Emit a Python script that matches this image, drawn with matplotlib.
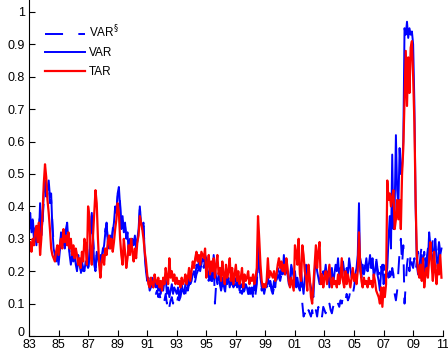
import numpy as np
import matplotlib
matplotlib.use("Agg")
import matplotlib.pyplot as plt
import matplotlib.transforms as mtransforms

# Monthly estimates, Jan 1983 - Dec 2010
tar = [
    0.27, 0.29, 0.26, 0.30, 0.28, 0.32, 0.34, 0.29, 0.35, 0.25, 0.30, 0.38,  # 1983
    0.47, 0.53, 0.49, 0.42, 0.38, 0.33, 0.27, 0.25, 0.24, 0.23, 0.26, 0.28,  # 1984
    0.25, 0.28, 0.30, 0.27, 0.33, 0.29, 0.31, 0.28, 0.32, 0.27, 0.30, 0.25,  # 1985
    0.28, 0.24, 0.27, 0.25, 0.22, 0.24, 0.21, 0.26, 0.23, 0.30, 0.28, 0.22,  # 1986
    0.40, 0.37, 0.26, 0.22, 0.31, 0.38, 0.45, 0.41, 0.30, 0.22, 0.18, 0.23,  # 1987
    0.25, 0.22, 0.27, 0.25, 0.29, 0.31, 0.27, 0.30, 0.26, 0.29, 0.33, 0.36,  # 1988
    0.41, 0.38, 0.30, 0.25, 0.22, 0.30, 0.26, 0.21, 0.24, 0.28, 0.25, 0.30,  # 1989
    0.26, 0.23, 0.27, 0.24, 0.29, 0.31, 0.37, 0.35, 0.33, 0.30, 0.26, 0.23,  # 1990
    0.19, 0.16, 0.15, 0.18, 0.16, 0.15, 0.19, 0.17, 0.16, 0.18, 0.15, 0.17,  # 1991
    0.14, 0.18, 0.16, 0.21, 0.18, 0.16, 0.24, 0.18, 0.20, 0.17, 0.19, 0.16,  # 1992
    0.18, 0.16, 0.17, 0.15, 0.18, 0.16, 0.17, 0.19, 0.16, 0.18, 0.21, 0.17,  # 1993
    0.20, 0.23, 0.21, 0.24, 0.26, 0.23, 0.25, 0.22, 0.26, 0.25, 0.24, 0.27,  # 1994
    0.18, 0.22, 0.25, 0.19, 0.23, 0.20, 0.24, 0.18, 0.22, 0.25, 0.19, 0.21,  # 1995
    0.17, 0.23, 0.19, 0.16, 0.22, 0.18, 0.20, 0.24, 0.17, 0.21, 0.16, 0.19,  # 1996
    0.22, 0.17, 0.20, 0.16, 0.18, 0.21, 0.15, 0.19, 0.17, 0.18, 0.20, 0.16,  # 1997
    0.18, 0.17, 0.19, 0.16, 0.18, 0.21, 0.37, 0.30, 0.22, 0.17, 0.15, 0.16,  # 1998
    0.15, 0.17, 0.24, 0.18, 0.20, 0.19, 0.18, 0.20, 0.17, 0.19, 0.22, 0.24,  # 1999
    0.21, 0.23, 0.20, 0.22, 0.19, 0.24, 0.21, 0.17, 0.15, 0.18, 0.16, 0.14,  # 2000
    0.28, 0.26, 0.22, 0.30, 0.19, 0.17, 0.28, 0.25, 0.20, 0.18, 0.14, 0.22,  # 2001
    0.18, 0.12, 0.10, 0.16, 0.22, 0.28, 0.21, 0.26, 0.29, 0.16, 0.19, 0.15,  # 2002
    0.18, 0.20, 0.16, 0.19, 0.22, 0.17, 0.15, 0.18, 0.16, 0.17, 0.15, 0.19,  # 2003
    0.16, 0.18, 0.24, 0.17, 0.15, 0.20, 0.16, 0.19, 0.17, 0.15, 0.18, 0.21,  # 2004
    0.17, 0.19, 0.16, 0.20, 0.32, 0.22, 0.17, 0.15, 0.18, 0.16, 0.17, 0.15,  # 2005
    0.18, 0.16, 0.17, 0.15, 0.19, 0.17, 0.14, 0.13, 0.12, 0.10, 0.15, 0.09,  # 2006
    0.15, 0.12, 0.16, 0.48, 0.42, 0.44, 0.40, 0.43, 0.45, 0.33, 0.36, 0.42,  # 2007
    0.36, 0.42, 0.33, 0.50, 0.58, 0.73, 0.88, 0.71, 0.86, 0.75, 0.89, 0.91,  # 2008
    0.80, 0.66, 0.42, 0.25, 0.20, 0.18, 0.22, 0.17, 0.24, 0.15, 0.19, 0.21,  # 2009
    0.18, 0.24, 0.29, 0.22, 0.17, 0.26, 0.20, 0.16, 0.22, 0.19, 0.25, 0.18,  # 2010
]

var = [
    0.36, 0.38, 0.32, 0.36, 0.30, 0.33, 0.28, 0.34, 0.30, 0.41, 0.31, 0.36,  # 1983
    0.44, 0.48, 0.43, 0.45, 0.48, 0.43, 0.44, 0.33, 0.27, 0.25, 0.23, 0.25,  # 1984
    0.22, 0.26, 0.32, 0.28, 0.30, 0.27, 0.33, 0.35, 0.29, 0.25, 0.22, 0.25,  # 1985
    0.23, 0.25, 0.22, 0.20, 0.24, 0.22, 0.20, 0.23, 0.21, 0.20, 0.23, 0.22,  # 1986
    0.21, 0.25, 0.32, 0.38, 0.30, 0.22, 0.20, 0.26, 0.24, 0.22, 0.25, 0.23,  # 1987
    0.26, 0.28, 0.32, 0.35, 0.29, 0.27, 0.31, 0.28, 0.32, 0.35, 0.40, 0.38,  # 1988
    0.44, 0.46, 0.40, 0.33, 0.37, 0.32, 0.35, 0.30, 0.32, 0.25, 0.30, 0.27,  # 1989
    0.30, 0.28, 0.31, 0.27, 0.30, 0.33, 0.40, 0.35, 0.34, 0.35, 0.25, 0.20,  # 1990
    0.17, 0.18, 0.15, 0.16, 0.18, 0.15, 0.17, 0.15, 0.16, 0.14, 0.15, 0.13,  # 1991
    0.16, 0.14, 0.17, 0.18, 0.13, 0.15, 0.12, 0.14, 0.16, 0.13, 0.15, 0.14,  # 1992
    0.13, 0.15, 0.12, 0.14, 0.16, 0.14, 0.13, 0.16, 0.17, 0.15, 0.18, 0.16,  # 1993
    0.17, 0.19, 0.20, 0.18, 0.22, 0.21, 0.23, 0.20, 0.22, 0.24, 0.23, 0.25,  # 1994
    0.24, 0.20, 0.18, 0.21, 0.17, 0.19, 0.25, 0.21, 0.18, 0.16, 0.19, 0.17,  # 1995
    0.15, 0.18, 0.16, 0.14, 0.19, 0.17, 0.18, 0.15, 0.17, 0.19, 0.16, 0.18,  # 1996
    0.17, 0.15, 0.17, 0.14, 0.16, 0.15, 0.17, 0.14, 0.16, 0.15, 0.13, 0.15,  # 1997
    0.14, 0.15, 0.13, 0.16, 0.14, 0.18, 0.30, 0.22, 0.18, 0.15, 0.16, 0.14,  # 1998
    0.16, 0.15, 0.18, 0.16, 0.17, 0.15, 0.14, 0.17, 0.15, 0.19, 0.21, 0.20,  # 1999
    0.18, 0.21, 0.19, 0.25, 0.20, 0.22, 0.19, 0.16, 0.18, 0.22, 0.20, 0.18,  # 2000
    0.20, 0.16, 0.18, 0.15, 0.14, 0.20, 0.16, 0.13, 0.18, 0.22, 0.17, 0.19,  # 2001
    0.17, 0.15, 0.13, 0.12, 0.20, 0.24, 0.20, 0.18, 0.16, 0.19, 0.17, 0.20,  # 2002
    0.19, 0.22, 0.17, 0.20, 0.15, 0.18, 0.21, 0.16, 0.19, 0.22, 0.20, 0.24,  # 2003
    0.18, 0.21, 0.19, 0.23, 0.20, 0.17, 0.21, 0.19, 0.24, 0.21, 0.18, 0.20,  # 2004
    0.17, 0.19, 0.21, 0.25, 0.41, 0.20, 0.18, 0.22, 0.19, 0.21, 0.24, 0.20,  # 2005
    0.22, 0.25, 0.21, 0.24, 0.18, 0.20, 0.23, 0.19, 0.17, 0.14, 0.20, 0.22,  # 2006
    0.16, 0.19, 0.18, 0.21, 0.30, 0.37, 0.27, 0.56, 0.33, 0.40, 0.62, 0.45,  # 2007
    0.40, 0.58, 0.50, 0.52, 0.60, 0.95, 0.93, 0.97, 0.92, 0.95, 0.93, 0.94,  # 2008
    0.90, 0.72, 0.40, 0.22, 0.19, 0.22, 0.18, 0.25, 0.20, 0.17, 0.24, 0.21,  # 2009
    0.23, 0.32, 0.28, 0.25, 0.22, 0.27, 0.30, 0.24, 0.21, 0.27, 0.25, 0.27,  # 2010
]

var_s = [
    0.38, 0.36, 0.33, 0.37, 0.31, 0.35, 0.29, 0.33, 0.31, 0.40, 0.32, 0.35,  # 1983
    0.42, 0.47, 0.44, 0.46, 0.47, 0.41, 0.42, 0.35, 0.28, 0.26, 0.24, 0.26,  # 1984
    0.23, 0.27, 0.31, 0.29, 0.31, 0.28, 0.32, 0.34, 0.30, 0.26, 0.23, 0.26,  # 1985
    0.24, 0.26, 0.23, 0.21, 0.25, 0.21, 0.19, 0.22, 0.20, 0.21, 0.22, 0.21,  # 1986
    0.20, 0.24, 0.31, 0.37, 0.31, 0.23, 0.21, 0.25, 0.23, 0.21, 0.24, 0.24,  # 1987
    0.27, 0.29, 0.33, 0.34, 0.30, 0.28, 0.30, 0.29, 0.33, 0.36, 0.39, 0.39,  # 1988
    0.43, 0.45, 0.41, 0.34, 0.36, 0.33, 0.34, 0.31, 0.31, 0.26, 0.29, 0.28,  # 1989
    0.29, 0.27, 0.30, 0.28, 0.29, 0.32, 0.39, 0.36, 0.33, 0.34, 0.26, 0.21,  # 1990
    0.16, 0.17, 0.14, 0.15, 0.16, 0.14, 0.15, 0.13, 0.14, 0.12, 0.13, 0.11,  # 1991
    0.12, 0.10, 0.11, 0.13, 0.10, 0.12, 0.09, 0.11, 0.12, 0.10, 0.12, 0.11,  # 1992
    0.10, 0.12, 0.11, 0.12, 0.14, 0.12, 0.11, 0.13, 0.15, 0.14, 0.16, 0.15,  # 1993
    0.15, 0.17, 0.16, 0.17, 0.19, 0.20, 0.21, 0.19, 0.21, 0.22, 0.21, 0.24,  # 1994
    0.22, 0.18, 0.17, 0.20, 0.15, 0.18, 0.24, 0.10, 0.16, 0.15, 0.17, 0.16,  # 1995
    0.14, 0.16, 0.15, 0.12, 0.17, 0.16, 0.17, 0.14, 0.16, 0.17, 0.15, 0.16,  # 1996
    0.16, 0.14, 0.15, 0.13, 0.14, 0.13, 0.15, 0.13, 0.14, 0.14, 0.12, 0.14,  # 1997
    0.13, 0.14, 0.12, 0.10, 0.13, 0.16, 0.24, 0.20, 0.16, 0.14, 0.15, 0.13,  # 1998
    0.15, 0.14, 0.16, 0.15, 0.16, 0.14, 0.13, 0.15, 0.14, 0.17, 0.19, 0.18,  # 1999
    0.17, 0.19, 0.18, 0.22, 0.19, 0.20, 0.18, 0.15, 0.16, 0.20, 0.18, 0.16,  # 2000
    0.18, 0.15, 0.16, 0.14, 0.13, 0.18, 0.10, 0.06, 0.07, 0.05, 0.06, 0.08,  # 2001
    0.07, 0.06, 0.08, 0.05, 0.07, 0.08, 0.06, 0.09, 0.07, 0.08, 0.06, 0.09,  # 2002
    0.08, 0.07, 0.09, 0.08, 0.10, 0.08, 0.07, 0.09, 0.10, 0.09, 0.11, 0.10,  # 2003
    0.09, 0.11, 0.10, 0.12, 0.10, 0.11, 0.13, 0.11, 0.12, 0.14, 0.12, 0.13,  # 2004
    0.15, 0.18, 0.20, 0.22, 0.21, 0.24, 0.22, 0.20, 0.23, 0.21, 0.22, 0.20,  # 2005
    0.22, 0.24, 0.21, 0.23, 0.20, 0.22, 0.24, 0.21, 0.19, 0.23, 0.21, 0.20,  # 2006
    0.22, 0.19, 0.21, 0.20, 0.18, 0.20, 0.16, 0.21, 0.19, 0.13, 0.11, 0.14,  # 2007
    0.20, 0.26, 0.30, 0.22, 0.28, 0.10, 0.16, 0.22, 0.25, 0.20, 0.26, 0.22,  # 2008
    0.21, 0.24, 0.20, 0.23, 0.26, 0.21, 0.25, 0.28, 0.23, 0.26, 0.22, 0.24,  # 2009
    0.27, 0.25, 0.29, 0.26, 0.30, 0.24, 0.28, 0.27, 0.25, 0.29, 0.26, 0.28,  # 2010
]

year_ticks = list(range(1983, 2012, 2))
year_labels = ["%02d" % (y % 100) for y in year_ticks]

t = 1983 + np.arange(len(tar)) / 12.0

plt.rcParams["font.family"] = ["Liberation Sans", "DejaVu Sans"]
plt.rcParams["lines.scale_dashes"] = False

fig = plt.figure(figsize=(4.48, 3.53), dpi=100)
ax = fig.add_axes([29 / 448, 17 / 353, 413.7 / 448, 336 / 353])

ax.plot(t, var_s, color="#0000ff", lw=1.4, dashes=(13, 11), label="VAR$^{\\S}$")
ax.plot(t, var, color="#0000ff", lw=1.4, label="VAR")
ax.plot(t, tar, color="#ff0000", lw=1.6, label="TAR")

ax.set_xlim(1983, 2011)
ax.set_ylim(0, 336 / 324)
ax.set_xticks(year_ticks)
ax.set_xticklabels(year_labels)
ax.set_yticks(np.arange(0, 1.01, 0.1))
ax.set_yticklabels(["0"] + ["%.1f" % v for v in np.arange(0.1, 0.95, 0.1)] + ["1"])
ax.tick_params(direction="in", length=4, width=0.8, labelsize=9)
ax.tick_params(axis="x", pad=2)
ax.tick_params(axis="y", pad=3)
ax.spines["top"].set_visible(False)
ax.spines["right"].set_visible(False)

# lift the "0" label a little so it clears the first year label
zero_label = ax.get_yticklabels()[0]
zero_label.set_transform(zero_label.get_transform()
                         + mtransforms.ScaledTranslation(0, 3 / 72, fig.dpi_scale_trans))

ax.legend(loc="upper left", bbox_to_anchor=(0.012, 0.96), frameon=False,
          fontsize=8.5, handlelength=3.4, handletextpad=0.35, labelspacing=0.55)

fig.savefig("out.png", dpi=100)
